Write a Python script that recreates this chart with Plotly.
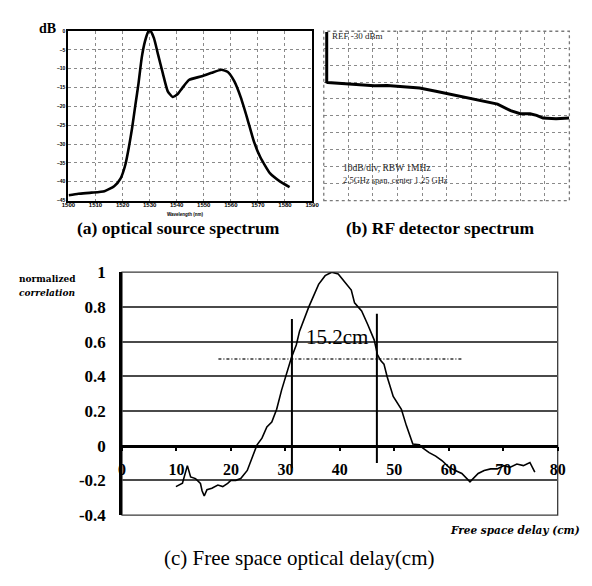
import plotly.graph_objects as go

W, H = 592, 586

# ---------------- (a) optical source spectrum ----------------
a_wavelength = [1500.1, 1503.7, 1508.5, 1513.3, 1516.9, 1519.3, 1521.1, 1522.3, 1523.5, 1524.7,
                1525.9, 1527.1, 1528.3, 1529.5, 1530.3, 1531.6, 1533.1, 1534.9, 1536.7, 1538.5,
                1540.3, 1542.1, 1544.5, 1549.3, 1552.9, 1556.5, 1558.9, 1561.3, 1563.7, 1566.1,
                1568.5, 1570.9, 1574.5, 1578.1, 1581.7]
a_power_db = [-43.6, -43.2, -42.9, -42.5, -41.2, -39.1, -35.3, -31.0, -25.9, -19.8,
              -13.9, -7.0, -2.7, -0.2, 0.0, -1.9, -6.2, -11.3, -16.0, -17.5,
              -16.8, -15.1, -13.0, -12.0, -11.1, -10.3, -10.9, -13.4, -17.7, -23.3,
              -29.3, -33.5, -37.8, -39.9, -41.4]
a_xticks = [1500, 1510, 1520, 1530, 1540, 1550, 1560, 1570, 1580, 1590]
a_yticks = [0, -5, -10, -15, -20, -25, -30, -35, -40, -45]

# ---------------- (b) RF detector spectrum ----------------
b_freq_ghz = [0.03, 0.03, 0.04, 0.149, 0.315, 0.513, 0.645, 0.81, 0.975, 1.141, 1.307,
              1.471, 1.637, 1.769, 1.902, 2.0, 2.1, 2.166, 2.232, 2.364, 2.497]
b_power_dbm = [-30.5, -60.0, -60.3, -60.7, -61.6, -62.2, -62.0, -62.6, -63.5, -65.4, -67.3,
               -69.3, -71.1, -73.0, -76.9, -78.7, -78.7, -79.7, -81.3, -81.6, -81.3]

# ---------------- (c) correlation vs free space delay ----------------
c_delay_cm = [9.9, 11.1, 12.0, 12.6, 13.5, 14.4, 14.7, 15.1, 15.6, 16.5, 17.6, 18.5, 19.4, 20.0,
              20.9, 21.8, 23.0, 24.2, 24.8, 25.7, 26.6, 27.5, 28.4, 29.3, 30.2, 31.1, 32.0,
              32.6, 34.3, 36.1, 37.3, 38.5, 39.7, 40.7, 42.1, 42.7, 44.0, 45.1, 46.3, 46.9,
              47.5, 48.1, 48.7, 49.8, 51.3, 52.2, 53.4, 54.6, 55.2, 56.4, 57.6, 58.8, 60.0,
              61.2, 62.4, 63.9, 64.5, 65.4, 66.5, 67.7, 68.9, 70.1, 71.3, 72.5, 73.7, 74.9, 75.8]
c_correlation = [-0.236, -0.217, -0.115, -0.18, -0.19, -0.217, -0.26, -0.29, -0.254, -0.245,
                 -0.227, -0.236, -0.217, -0.2, -0.2, -0.19, -0.143, -0.05, 0.005, 0.043, 0.108,
                 0.136, 0.21, 0.32, 0.414, 0.507, 0.58, 0.66, 0.80, 0.93, 0.98, 1.0, 0.99,
                 0.953, 0.897, 0.823, 0.776, 0.70, 0.61, 0.525, 0.49, 0.47, 0.396, 0.284, 0.21,
                 0.117, 0.01, 0.005, -0.013, -0.04, -0.06, -0.087, -0.124, -0.143, -0.16,
                 -0.208, -0.19, -0.16, -0.143, -0.134, -0.134, -0.115, -0.124, -0.106, -0.115,
                 -0.097, -0.152]
c_xticks = [0, 10, 20, 30, 40, 50, 60, 70, 80]
c_yticks = [1, 0.8, 0.6, 0.4, 0.2, 0, -0.2, -0.4]
c_ytick_text = ["1", "0.8", "0.6", "0.4", "0.2", "0", "-0.2", "-0.4"]
fwhm_marks_x = [31.2, 46.8]
fwhm_marks_y0 = [-0.13, -0.10]
fwhm_marks_y1 = [0.73, 0.76]
half_max_x = [17.7, 62.4]
half_max_y = [0.5, 0.5]
fwhm_label = "15.2cm"
fwhm_label_pos = (39.5, 0.625)


def px(x):
    return x / W


def py(y):
    return 1 - y / H


SERIF = "Liberation Serif"

fig = go.Figure()

# (a)
fig.add_trace(go.Scatter(x=a_wavelength, y=a_power_db, mode="lines",
                         line=dict(color="black", width=2.6, shape="spline", smoothing=0.5),
                         xaxis="x", yaxis="y", showlegend=False, hoverinfo="skip"))
# (b)
fig.add_trace(go.Scatter(x=b_freq_ghz, y=b_power_dbm, mode="lines",
                         line=dict(color="black", width=3),
                         xaxis="x2", yaxis="y2", showlegend=False, hoverinfo="skip"))
# (c) half-max dashed line
fig.add_trace(go.Scatter(x=half_max_x, y=half_max_y, mode="lines",
                         line=dict(color="#333", width=1.5, dash="3px,2px,1px,2px"),
                         xaxis="x3", yaxis="y3", showlegend=False, hoverinfo="skip"))
# (c) FWHM vertical markers
for mx, m0, m1 in zip(fwhm_marks_x, fwhm_marks_y0, fwhm_marks_y1):
    fig.add_trace(go.Scatter(x=[mx, mx], y=[m0, m1], mode="lines",
                             line=dict(color="black", width=2),
                             xaxis="x3", yaxis="y3", showlegend=False, hoverinfo="skip"))
# (c) correlation curve
fig.add_trace(go.Scatter(x=c_delay_cm, y=c_correlation, mode="lines",
                         line=dict(color="black", width=1.6),
                         xaxis="x3", yaxis="y3", showlegend=False, hoverinfo="skip"))

# domains
a_dom_x = [px(63), px(313)]
a_dom_y = [py(198), py(22.7)]
b_dom_x = [px(325), px(577)]
b_dom_y = [py(198), py(23)]
c_dom_x = [px(118), px(565)]
c_dom_y = [py(523), py(272)]
c_zero_pos = c_dom_y[0] + (0 - (-0.4)) / 1.4 * (c_dom_y[1] - c_dom_y[0])

fig.update_layout(
    width=W, height=H,
    margin=dict(l=0, r=0, t=0, b=0),
    paper_bgcolor="white", plot_bgcolor="white",
    xaxis=dict(domain=a_dom_x, range=[1500, 1590], tickvals=a_xticks,
               showgrid=True, gridcolor="#8a8a8a", griddash="dot", gridwidth=1,
               showline=True, mirror=True, linecolor="black", linewidth=2,
               zeroline=False, ticks="", anchor="y", ticklabelstandoff=-3,
               tickfont=dict(family="Liberation Sans", size=6, color="black", weight="bold")),
    yaxis=dict(domain=a_dom_y, range=[-45, 0], tickvals=a_yticks,
               showgrid=True, gridcolor="#8a8a8a", griddash="dot", gridwidth=1,
               showline=True, mirror=True, linecolor="black", linewidth=2,
               zeroline=False, ticks="", anchor="x", ticklabelstandoff=0,
               tickfont=dict(family="Liberation Sans", size=5, color="black", weight="bold")),
    xaxis2=dict(domain=b_dom_x, range=[0, 2.5], dtick=0.25,
                showgrid=True, gridcolor="#8a8a8a", griddash="dot", gridwidth=1,
                showline=False, zeroline=False, showticklabels=False, ticks="", anchor="y2"),
    yaxis2=dict(domain=b_dom_y, range=[-130, -30], dtick=10,
                showgrid=True, gridcolor="#8a8a8a", griddash="dot", gridwidth=1,
                showline=False, zeroline=False, showticklabels=False, ticks="", anchor="x2"),
    xaxis3=dict(domain=c_dom_x, range=[0, 80], tickvals=c_xticks,
                anchor="free", position=c_zero_pos,
                showgrid=False, zeroline=False,
                showline=True, linecolor="black", linewidth=2.5,
                ticks="outside", ticklen=4, tickcolor="black", tickwidth=1.5,
                ticklabelstandoff=4,
                tickfont=dict(family=SERIF, size=16, color="black", weight="bold")),
    yaxis3=dict(domain=c_dom_y, range=[-0.4, 1], tickvals=c_yticks, ticktext=c_ytick_text,
                anchor="x3", showgrid=True, gridcolor="#4a4a4a", gridwidth=1.5,
                zeroline=False, showline=True, linecolor="black", linewidth=2.5,
                ticks="", ticklabelstandoff=10,
                tickfont=dict(family=SERIF, size=17, color="black", weight="bold")),
)

shapes = [
    dict(type="rect", xref="x2 domain", yref="y2 domain", x0=0, x1=1, y0=0, y1=1,
         line=dict(color="#7a7a7a", width=1.3, dash="dot"), layer="above"),
    dict(type="rect", xref="x3 domain", yref="y3 domain", x0=0, x1=1, y0=0, y1=1,
         line=dict(color="#3a3a3a", width=1.3), layer="below"),
]
fig.update_layout(shapes=shapes)


def label(text, x, y, size, family=SERIF, xanchor="center", color="black"):
    return dict(text=text, x=px(x), y=py(y), xref="paper", yref="paper",
                xanchor=xanchor, yanchor="middle", showarrow=False,
                font=dict(family=family, size=size, color=color))


ann = [
    # (a)
    label("<b>dB</b>", 42, 20, 14),
    label("<b>Wavelength (nm)</b>", 183, 212, 4.5, family="Liberation Sans"),
    label("<b>(a) optical source spectrum</b>", 176, 226, 17.5),
    # (b)
    label("REF -30 dBm", 331, 28, 9, xanchor="left", color="#222"),
    label("10dB/div, RBW 1MHz", 343, 164, 9.5, xanchor="left", color="#222"),
    label("2.5GHz span, center 1.25 GHz", 343, 177, 8.5, xanchor="left", color="#222"),
    label("<b>(b) RF detector spectrum</b>", 444, 226, 17.5),
    # (c)
    label("<b>normalized</b>", 10, 279, 9, family="DejaVu Serif", xanchor="left"),
    label("<b><i>correlation</i></b>", 10, 293, 9, family="DejaVu Serif", xanchor="left"),
    label("<b><i>Free space delay (cm)</i></b>", 590, 538, 10.5, family="DejaVu Serif",
          xanchor="right"),
    label("(c) Free space optical delay(cm)", 300, 567, 21),
]
ann.append(dict(text=fwhm_label, x=fwhm_label_pos[0], y=fwhm_label_pos[1], xref="x3", yref="y3",
                xanchor="center", yanchor="middle", showarrow=False,
                font=dict(family=SERIF, size=21, color="black")))
fig.update_layout(annotations=ann)

fig.write_html("out.html", config={"displayModeBar": False},
               post_script="document.body.style.margin='0';document.body.style.overflow='hidden';")
